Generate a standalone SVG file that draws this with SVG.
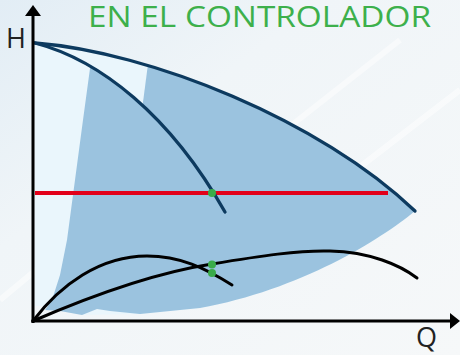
<svg xmlns="http://www.w3.org/2000/svg" width="460" height="355" viewBox="0 0 460 355">
  <defs>
    <linearGradient id="bg" x1="0" y1="0" x2="1" y2="1">
      <stop offset="0" stop-color="#e2edf5"/>
      <stop offset="0.35" stop-color="#f0f5f8"/>
      <stop offset="1" stop-color="#f6f8f9"/>
    </linearGradient>
    <clipPath id="wedgeClip">
      <polygon points="0,0 149,0 148,64 140,125 0,125"/>
    </clipPath>
    <style>
      .lbl { font-family: "Open Sans", "Liberation Sans", sans-serif; fill: #222; }
      .title { font-family: "Open Sans", "Liberation Sans", sans-serif; fill: #3db04b; }
      .light { fill: #eaf6fc; }
      .band { fill: #9bc3df; }
      .pump { fill: none; stroke: #0d3a5f; stroke-width: 3.3; stroke-linecap: round; }
      .sys { fill: none; stroke: #000; stroke-width: 3; stroke-linecap: round; }
      .axis { fill: none; stroke: #000; stroke-width: 3; }
      .dot { fill: #3aab4a; }
    </style>
  </defs>

  <rect width="460" height="355" fill="url(#bg)"/>
  <g opacity="0.5" stroke="#ffffff" stroke-width="6" fill="none">
    <line x1="260" y1="150" x2="400" y2="40"/>
    <line x1="330" y1="190" x2="460" y2="90"/>
    <line x1="0" y1="300" x2="60" y2="250"/>
  </g>

  <g id="area">
    <path class="light" d="M35,43 C150,52 320,120 415,211 C380,240 300,290 200,308 L140,314 L82,315 L60,306 L35,306 Z"/>
    <path class="band" d="M35,43 C150,52 320,120 415,211 C380,240 300,290 200,308 L140,314 L110,311 L97,309 L82,315 L60,311 L45,310 L52,300 L60,275 L67,240 L83,120 L90.3,66.3 C71.8,55.5 53.2,47.8 35,43 Z"/>
    <path class="light" clip-path="url(#wedgeClip)" d="M35,43 C150,52 320,120 415,211 L225,212 C170,115 100,60 35,43 Z"/>
  </g>

  <g id="title"><text class="title" x="88" y="27" font-size="30" textLength="343" lengthAdjust="spacingAndGlyphs">EN EL CONTROLADOR</text></g>

  <g id="connectors">
    <line id="red-line" x1="35" y1="193" x2="388" y2="193" stroke="#e2001a" stroke-width="4"/>
    <path id="pump-max" class="pump" d="M35,43 C150,52 320,120 415,211"/>
    <path id="pump-reduced" class="pump" d="M35,43 C100,60 170,115 225,212"/>
    <path id="system-1" class="sys" d="M33,321 C60,285 100,256 147,256 C180,256 205,268 232,285"/>
    <path id="system-2" class="sys" d="M33,321 C100,292 160,272 212,264 C260,256 300,250 330,251 C370,252 400,265 417,278"/>
  </g>

  <g id="axes">
    <line class="axis" x1="33" y1="323" x2="33" y2="13"/>
    <polygon points="33,5 25,16 41,16" fill="#000"/>
    <line class="axis" x1="31.5" y1="321" x2="452" y2="321"/>
    <polygon points="460,321 450,313 450,329" fill="#000"/>
  </g>

  <g id="points">
    <circle class="dot" cx="212" cy="193" r="4"/>
    <circle class="dot" cx="212" cy="264.5" r="4"/>
    <circle class="dot" cx="212" cy="273" r="4"/>
  </g>

  <g id="label-H"><text class="lbl" x="6" y="48" font-size="27">H</text></g>
  <g id="label-Q"><text class="lbl" x="416" y="347" font-size="27">Q</text></g>
</svg>
